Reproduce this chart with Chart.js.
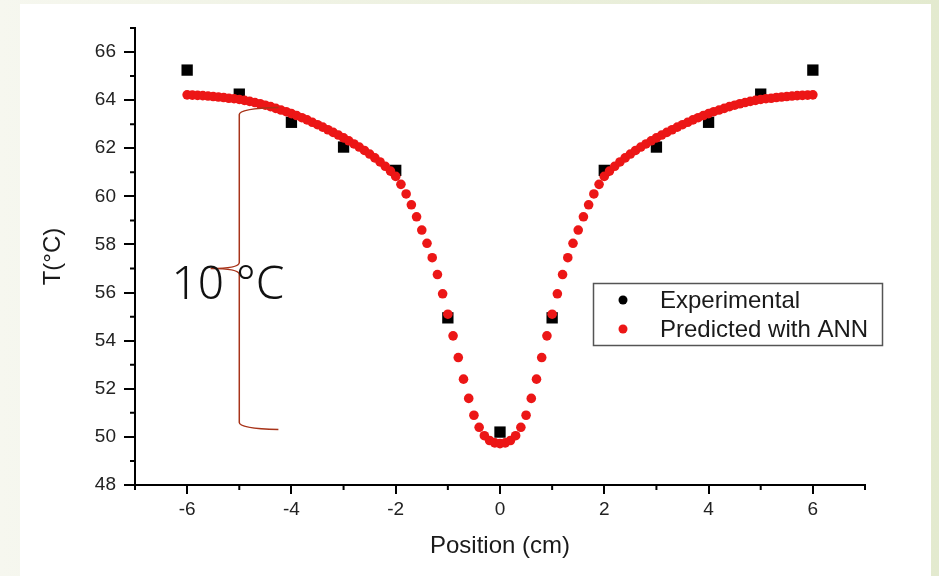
<!DOCTYPE html>
<html>
<head>
<meta charset="utf-8">
<script src="https://cdn.jsdelivr.net/npm/chart.js@4.4.1/dist/chart.umd.min.js"></script>
<style>
    html, body { margin: 0; padding: 0; }
    body {
        width: 939px; height: 576px; overflow: hidden; position: relative;
        background: linear-gradient(to right, #f6f7ef, #e3eacf);
    }
    #panel { position: absolute; left: 20px; top: 4px; width: 911px; height: 572px; background: #fff; }
    #wrap { position: absolute; left: 0; top: 0; width: 939px; height: 576px; }
</style>
</head>
<body>
<div id="panel"></div>
<div id="wrap"><canvas id="tempChart"></canvas></div>
<script>
// Experimental measurements
const xExp = [-6, -5, -4, -3, -2, -1, 0, 1, 2, 3, 4, 5, 6];
const tExp = [65.25, 64.25, 63.08, 62.05, 61.08, 54.95, 50.2, 54.95, 61.08, 62.05, 63.08, 64.25, 65.25];

// ANN prediction, every 0.1 cm
const xAnn = [
    -6.0, -5.9, -5.8, -5.7, -5.6, -5.5, -5.4, -5.3, -5.2, -5.1,
    -5.0, -4.9, -4.8, -4.7, -4.6, -4.5, -4.4, -4.3, -4.2, -4.1,
    -4.0, -3.9, -3.8, -3.7, -3.6, -3.5, -3.4, -3.3, -3.2, -3.1,
    -3.0, -2.9, -2.8, -2.7, -2.6, -2.5, -2.4, -2.3, -2.2, -2.1,
    -2.0, -1.9, -1.8, -1.7, -1.6, -1.5, -1.4, -1.3, -1.2, -1.1,
    -1.0, -0.9, -0.8, -0.7, -0.6, -0.5, -0.4, -0.3, -0.2, -0.1,
    0.0,
    0.1, 0.2, 0.3, 0.4, 0.5, 0.6, 0.7, 0.8, 0.9, 1.0,
    1.1, 1.2, 1.3, 1.4, 1.5, 1.6, 1.7, 1.8, 1.9, 2.0,
    2.1, 2.2, 2.3, 2.4, 2.5, 2.6, 2.7, 2.8, 2.9, 3.0,
    3.1, 3.2, 3.3, 3.4, 3.5, 3.6, 3.7, 3.8, 3.9, 4.0,
    4.1, 4.2, 4.3, 4.4, 4.5, 4.6, 4.7, 4.8, 4.9, 5.0,
    5.1, 5.2, 5.3, 5.4, 5.5, 5.6, 5.7, 5.8, 5.9, 6.0
];
const tAnn = [
    64.22, 64.21, 64.20, 64.19, 64.17, 64.15, 64.13, 64.11, 64.08, 64.06,
    64.03, 63.99, 63.95, 63.90, 63.85, 63.79, 63.73, 63.66, 63.59, 63.52,
    63.44, 63.36, 63.27, 63.18, 63.08, 62.98, 62.88, 62.77, 62.66, 62.55,
    62.43, 62.31, 62.18, 62.05, 61.91, 61.76, 61.60, 61.43, 61.25, 61.05,
    60.83, 60.50, 60.10, 59.65, 59.15, 58.60, 58.05, 57.45, 56.75, 55.95,
    55.10, 54.20, 53.30, 52.40, 51.60, 50.90, 50.40, 50.05, 49.85, 49.75,
    49.72,
    49.75, 49.85, 50.05, 50.40, 50.90, 51.60, 52.40, 53.30, 54.20, 55.10,
    55.95, 56.75, 57.45, 58.05, 58.60, 59.15, 59.65, 60.10, 60.50, 60.83,
    61.05, 61.25, 61.43, 61.60, 61.76, 61.91, 62.05, 62.18, 62.31, 62.43,
    62.55, 62.66, 62.77, 62.88, 62.98, 63.08, 63.18, 63.27, 63.36, 63.44,
    63.52, 63.59, 63.66, 63.73, 63.79, 63.85, 63.90, 63.95, 63.99, 64.03,
    64.06, 64.08, 64.11, 64.13, 64.15, 64.17, 64.19, 64.20, 64.21, 64.22
];

// Tick values
const xTicks = [-6, -4, -2, 0, 2, 4, 6];
const xMinor = [-7, -5, -3, -1, 1, 3, 5, 7];
const yTicks = [48, 50, 52, 54, 56, 58, 60, 62, 64, 66];
const yMinor = [49, 51, 53, 55, 57, 59, 61, 63, 65, 67];

// Hand-drawn "10 °C" brace, placed in data units
const brace = { x: -5, top: 63.65, bottom: 50.35, mid: 57.0, tip: -5.55, end: -4.25 };
const braceLabel = { text: '10 °C', x: -6.3, t: 55.75 };

const FONT = '"Liberation Sans", Arial, sans-serif';

const minorTicks = {
    id: 'minorTicks',
    afterDraw(chart) {
        const { ctx, chartArea, scales: { x, y } } = chart;
        ctx.save();
        ctx.strokeStyle = '#000';
        ctx.lineWidth = 2;
        ctx.beginPath();
        yMinor.forEach(v => {
            const py = y.getPixelForValue(v);
            ctx.moveTo(chartArea.left - 5, py);
            ctx.lineTo(chartArea.left, py);
        });
        xMinor.forEach(v => {
            const px = x.getPixelForValue(v);
            ctx.moveTo(px, chartArea.bottom);
            ctx.lineTo(px, chartArea.bottom + 5);
        });
        ctx.stroke();
        ctx.restore();
    }
};

const braceNote = {
    id: 'braceNote',
    afterDatasetsDraw(chart) {
        const { ctx, scales: { x, y } } = chart;
        const bx = x.getPixelForValue(brace.x);
        const yt = y.getPixelForValue(brace.top);
        const yb = y.getPixelForValue(brace.bottom);
        const ym = y.getPixelForValue(brace.mid);
        const tip = x.getPixelForValue(brace.tip);
        const end = x.getPixelForValue(brace.end);

        ctx.save();
        ctx.strokeStyle = '#a8341a';
        ctx.lineWidth = 1.5;
        ctx.beginPath();
        ctx.moveTo(end, yt - 1);
        ctx.quadraticCurveTo(bx, yt, bx, yt + 6);
        ctx.lineTo(bx, ym - 6);
        ctx.quadraticCurveTo(bx, ym, tip, ym);
        ctx.quadraticCurveTo(bx, ym, bx, ym + 6);
        ctx.lineTo(bx, yb - 6);
        ctx.quadraticCurveTo(bx, yb, end, yb + 1);
        ctx.stroke();

        ctx.fillStyle = '#111';
        ctx.font = '300 46px "Noto Sans", "Open Sans", sans-serif';
        ctx.textBaseline = 'alphabetic';
        ctx.fillText(braceLabel.text, x.getPixelForValue(braceLabel.x), y.getPixelForValue(braceLabel.t));
        ctx.restore();
    }
};

const legendBox = {
    id: 'legendBox',
    afterDraw(chart) {
        const ctx = chart.ctx;
        ctx.save();
        ctx.strokeStyle = '#555';
        ctx.lineWidth = 1.5;
        ctx.strokeRect(593.5, 283.5, 289, 62);
        ctx.font = '24px ' + FONT;
        ctx.textBaseline = 'middle';
        chart.data.datasets.forEach((ds, i) => {
            const ly = 300 + i * 29;
            ctx.fillStyle = ds.backgroundColor;
            ctx.beginPath();
            ctx.arc(623, ly, 4.5, 0, Math.PI * 2);
            ctx.fill();
            ctx.fillStyle = '#1a1a1a';
            ctx.fillText(ds.label, 660, ly + 1);
        });
        ctx.restore();
    }
};

const ctx = document.getElementById('tempChart').getContext('2d');

const tempChart = new Chart(ctx, {
    type: 'scatter',
    data: {
        datasets: [{
            label: 'Experimental',
            data: xExp.map((v, i) => ({ x: v, y: tExp[i] })),
            backgroundColor: '#000',
            pointStyle: 'rect',
            pointRadius: 8,
            borderWidth: 0,
            order: 2
        }, {
            label: 'Predicted with ANN',
            data: xAnn.map((v, i) => ({ x: v, y: tAnn[i] })),
            backgroundColor: '#ec1616',
            pointStyle: 'circle',
            pointRadius: 4.8,
            borderWidth: 0,
            order: 1
        }]
    },
    options: {
        responsive: true,
        maintainAspectRatio: false,
        animation: false,
        layout: { padding: { left: 30, right: 74, top: 28, bottom: 0 } },
        plugins: {
            legend: { display: false },
            tooltip: { enabled: false }
        },
        scales: {
            x: {
                type: 'linear',
                min: -7,
                max: 7,
                afterBuildTicks: s => { s.ticks = xTicks.map(v => ({ value: v })); },
                afterFit: s => { s.height = 91; },
                grid: { drawOnChartArea: false, drawTicks: true, tickLength: 9, color: '#000', lineWidth: 2 },
                border: { color: '#000', width: 2 },
                ticks: { color: '#222', font: { family: FONT, size: 19 }, padding: 4, maxRotation: 0, autoSkip: false },
                title: {
                    display: true,
                    text: 'Position (cm)',
                    color: '#1a1a1a',
                    font: { family: FONT, size: 24 },
                    padding: { top: 0, bottom: 15 }
                }
            },
            y: {
                type: 'linear',
                min: 48,
                max: 67,
                afterBuildTicks: s => { s.ticks = yTicks.map(v => ({ value: v })); },
                afterFit: s => { s.width = 105; },
                grid: { drawOnChartArea: false, drawTicks: true, tickLength: 11, color: '#000', lineWidth: 2 },
                border: { color: '#000', width: 2 },
                ticks: { color: '#222', font: { family: FONT, size: 19 }, padding: 8 },
                title: {
                    display: true,
                    text: 'T(°C)',
                    color: '#1a1a1a',
                    font: { family: FONT, size: 24 },
                    padding: { top: 9, bottom: 0 }
                }
            }
        }
    },
    plugins: [minorTicks, braceNote, legendBox]
});
</script>
</body>
</html>
